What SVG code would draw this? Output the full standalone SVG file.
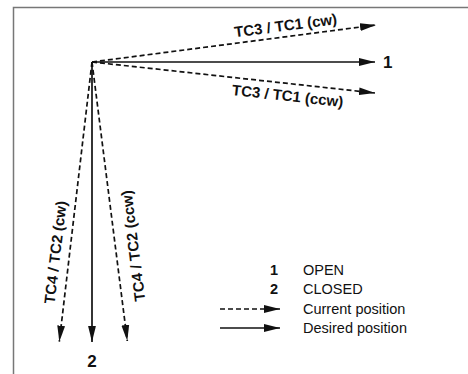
<svg xmlns="http://www.w3.org/2000/svg" width="468" height="374" viewBox="0 0 468 374">
<style>
.ln{stroke:#111;stroke-width:1.7;fill:none}
.ds{stroke-dasharray:5 3}
.lbl{font-family:"Liberation Sans",Arial,sans-serif;font-weight:bold;font-size:15px;fill:#111}
.num{font-family:"Liberation Sans",Arial,sans-serif;font-weight:bold;font-size:17px;fill:#111}
.leg{font-family:"Liberation Sans",Arial,sans-serif;font-size:14.5px;fill:#111}
.legn{font-family:"Liberation Sans",Arial,sans-serif;font-weight:bold;font-size:14.5px;fill:#111}
</style>
<defs>
<marker id="ah" markerUnits="userSpaceOnUse" markerWidth="17" markerHeight="9" refX="16" refY="4.5" orient="auto">
<path d="M0,0.6 L16,4.5 L0,8.4 Z" fill="#111"/>
</marker>
</defs>
<g id="frame">
<path d="M13.5,374 V7.5 H468" stroke="#777" stroke-width="1.5" fill="none"/>
</g>
<g id="connectors">
<line class="ln ds" x1="92" y1="62" x2="376" y2="25" marker-end="url(#ah)"/>
<line class="ln" x1="92" y1="62" x2="375" y2="62" marker-end="url(#ah)"/>
<line class="ln ds" x1="92" y1="62" x2="375" y2="93" marker-end="url(#ah)"/>
<line class="ln ds" x1="92" y1="62" x2="59.3" y2="341.7" marker-end="url(#ah)"/>
<line class="ln" x1="92" y1="62" x2="92" y2="342" marker-end="url(#ah)"/>
<line class="ln ds" x1="92" y1="62" x2="127.3" y2="341" marker-end="url(#ah)"/>
</g>
<g id="label-tc3-tc1-cw">
<text class="lbl" text-anchor="middle" transform="translate(287,36.6) rotate(-7.42)" y="-6">TC3 / TC1 (cw)</text>
</g>
<g id="label-tc3-tc1-ccw">
<text class="lbl" text-anchor="middle" transform="translate(289,83.6) rotate(6.25)" y="17.5">TC3 / TC1 (ccw)</text>
</g>
<g id="label-tc4-tc2-cw">
<text class="lbl" text-anchor="middle" transform="translate(69.5,254) rotate(-83.33)" y="-9">TC4 / TC2 (cw)</text>
</g>
<g id="label-tc4-tc2-ccw">
<text class="lbl" text-anchor="middle" transform="translate(115.5,248) rotate(-97.21)" y="23">TC4 / TC2 (ccw)</text>
</g>
<g id="node-1">
<text class="num" x="383" y="68">1</text>
</g>
<g id="node-2">
<text class="num" x="92" y="367" text-anchor="middle">2</text>
</g>
<g id="legend">
<text class="legn" x="278" y="275" text-anchor="end">1</text>
<text class="leg" x="303" y="275">OPEN</text>
<text class="legn" x="278" y="294" text-anchor="end">2</text>
<text class="leg" x="303" y="294">CLOSED</text>
<line class="ln ds" x1="220" y1="309" x2="280" y2="309" marker-end="url(#ah)"/>
<text class="leg" x="303" y="314">Current position</text>
<line class="ln" x1="220" y1="328" x2="280" y2="328" marker-end="url(#ah)"/>
<text class="leg" x="303" y="333">Desired position</text>
</g>
</svg>
